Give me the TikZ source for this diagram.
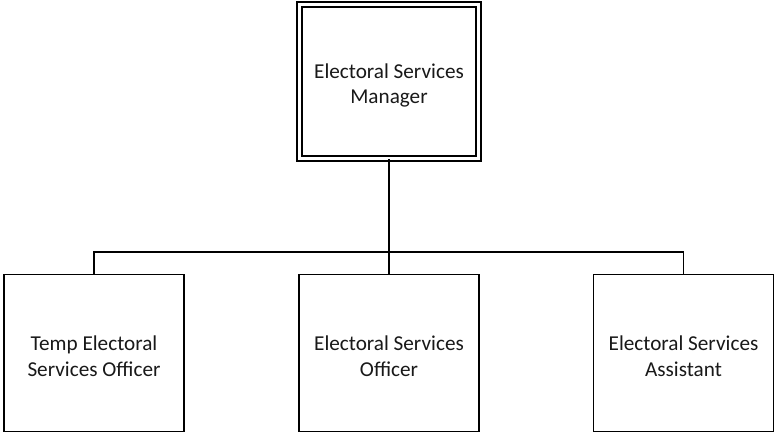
\documentclass[tikz,border=0pt]{standalone}
\usepackage{fontspec}
\setmainfont{Carlito}
\begin{document}
\begin{tikzpicture}[x=1pt,y=-1pt,
  role/.style={draw=black, line width=1.6pt, fill=white, inner sep=0pt},
  headbox/.style={role, double=white, double distance=2.4pt, line width=1.9pt,
    minimum width=179pt, minimum height=154pt},
  staffbox/.style={role, minimum width=180pt, minimum height=157pt},
  caption/.style={align=center, inner sep=0pt,
    font=\fontsize{21.2}{25.5}\selectfont, text=black!90},
  link/.style={draw=black, line width=1.6pt}]
  \useasboundingbox (0,0) rectangle (777,433);

  % boxes
  \node[headbox] (mgr) at (389,81.5) {};
  \node[staffbox] (temp) at (94,353) {};
  \node[staffbox] (off) at (389,353) {};
  \node[staffbox] (asst) at (683.5,353) {};

  % captions, set slightly below each box centre
  \node[caption] (mgrtext) at ([yshift=-4pt]mgr.center) {Electoral Services\\Manager};
  \node[caption] (temptext) at ([yshift=-3pt]temp.center) {Temp Electoral\\Services Officer};
  \node[caption] (offtext) at ([yshift=-3pt]off.center) {Electoral Services\\Officer};
  \node[caption] (assttext) at ([yshift=-3pt]asst.center) {Electoral Services\\Assistant};

  % reporting lines
  \coordinate (bus) at (389,252);
  \draw[link] (mgr.south) -- (off.north);
  \draw[link] (temp.north) |- (bus) -| (asst.north);
\end{tikzpicture}
\end{document}
